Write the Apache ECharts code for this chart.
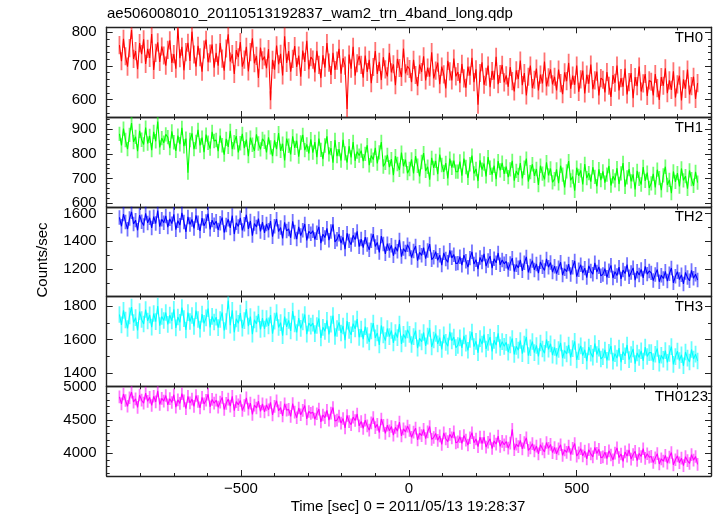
<!DOCTYPE html>
<html><head><meta charset="utf-8">
<script src="https://cdn.jsdelivr.net/npm/echarts@6/dist/echarts.min.js"></script>
<style>html,body{margin:0;padding:0;background:#fff}#c{width:717px;height:516px}</style>
</head><body><div id="c"></div>
<script>
const chartTitle = 'ae506008010_20110513192837_wam2_trn_4band_long.qdp';
const xTitle = 'Time [sec] 0 = 2011/05/13 19:28:37';
const yTitle = 'Counts/sec';
const panelNames = ['TH0', 'TH1', 'TH2', 'TH3', 'TH0123'];
const tStart = -862, binSize = 6;

const TH0 = [
762,714,781,729,698,753,807,721,744,690,768,735,779,706,751,724,795,688,739,770,712,758,731,701,
748,776,709,735,692,812,723,757,687,741,769,715,802,734,698,760,726,683,749,778,711,737,764,695,
739,701,768,722,686,752,794,713,735,676,747,726,771,698,719,757,684,741,782,708,730,664,755,717,
728,693,750,598,718,689,761,705,736,672,788,709,744,683,721,759,697,731,668,746,712,775,690,726,
719,681,745,703,664,732,695,768,710,673,739,688,716,751,677,723,701,572,734,692,757,671,708,729,
703,665,731,682,718,649,697,744,676,712,658,726,690,669,739,681,705,643,721,694,667,752,678,699,
691,652,718,673,640,704,682,729,657,695,668,741,663,686,710,646,698,675,633,715,684,657,722,669,
682,649,706,663,635,698,671,724,652,690,585,679,711,644,668,701,637,685,659,727,646,676,703,651,
672,638,697,655,624,687,661,716,643,679,612,668,701,634,659,692,627,674,648,713,639,666,690,645,
668,627,689,649,616,681,655,709,632,671,644,701,623,660,686,618,674,647,704,631,657,683,612,664,
659,621,682,641,608,673,650,701,627,664,638,692,615,652,679,604,667,640,698,624,648,676,611,657,
653,612,676,634,599,667,641,693,619,657,629,684,606,645,671,597,660,632,689,615,640,668,602,649];

const TH1 = [
881,834,902,856,819,877,925,848,869,811,893,857,838,906,842,873,815,889,851,931,826,864,845,879,
868,823,891,847,812,874,839,905,831,862,724,856,883,819,848,897,834,866,807,878,845,821,889,852,
856,811,874,835,797,861,828,893,819,847,872,806,843,881,823,858,791,866,837,812,879,842,818,861,
849,806,867,826,791,855,819,884,812,841,773,862,833,798,871,824,853,789,846,877,815,838,802,859,
805,848,787,862,816,779,834,871,798,823,764,856,791,819,773,857,802,765,831,786,848,772,809,793,
813,771,800,835,754,793,777,824,761,806,848,749,764,796,746,779,714,791,759,735,805,750,777,722,
739,778,721,791,752,709,767,803,731,748,696,784,743,772,718,797,755,727,763,701,781,744,773,728,
728,769,712,781,747,703,758,793,721,739,690,774,736,761,709,787,744,716,752,698,771,733,764,719,
749,706,737,772,692,731,715,763,701,744,781,688,726,758,711,739,674,752,720,697,766,713,741,685,
698,737,681,752,716,664,729,771,693,708,651,744,711,733,676,759,702,722,688,746,707,669,738,694,
729,684,716,751,672,709,693,742,678,721,763,667,705,738,689,717,656,731,699,676,747,691,724,662,
681,719,664,736,702,653,713,748,674,695,641,729,687,722,668,741,693,710,659,733,698,671,727,684];

const TH2 = [
1571,1508,1596,1539,1487,1563,1612,1524,1552,1479,1588,1541,1513,1601,1532,1569,1496,1577,1528,1621,1505,1558,1534,1582,
1502,1561,1527,1594,1483,1548,1516,1605,1539,1468,1575,1521,1557,1492,1586,1533,1474,1566,1511,1543,1598,1486,1552,1519,
1544,1482,1529,1571,1463,1517,1558,1496,1585,1452,1533,1507,1569,1478,1523,1591,1489,1546,1441,1528,1502,1563,1471,1537,
1461,1524,1480,1545,1433,1508,1559,1470,1499,1421,1536,1474,1489,1425,1544,1467,1416,1503,1441,1480,1524,1406,1472,1454,
1476,1413,1462,1504,1387,1451,1427,1493,1408,1470,1522,1396,1414,1451,1387,1429,1344,1458,1403,1376,1443,1412,1471,1361,
1416,1355,1430,1377,1339,1404,1451,1363,1392,1320,1437,1381,1310,1383,1334,1371,1296,1359,1328,1410,1290,1348,1323,1375,
1344,1283,1330,1366,1261,1321,1299,1355,1275,1333,1380,1268,1286,1325,1263,1300,1229,1317,1272,1249,1335,1281,1304,1240,
1243,1289,1228,1301,1257,1214,1279,1324,1236,1268,1199,1284,1251,1309,1222,1262,1293,1207,1274,1245,1316,1231,1266,1238,
1256,1197,1241,1279,1183,1232,1209,1267,1188,1245,1288,1176,1223,1261,1194,1237,1171,1252,1216,1190,1273,1214,1247,1179,
1221,1168,1209,1249,1157,1203,1182,1236,1161,1214,1258,1146,1195,1231,1172,1207,1139,1224,1186,1163,1245,1179,1216,1152,
1162,1203,1141,1189,1227,1136,1181,1154,1214,1129,1193,1168,1233,1145,1176,1209,1121,1185,1158,1198,1137,1220,1164,1187,
1173,1118,1162,1197,1109,1156,1132,1184,1114,1167,1208,1101,1148,1181,1125,1159,1093,1176,1139,1116,1191,1134,1163,1122];

const TH3 = [
1751,1689,1776,1718,1667,1743,1795,1703,1732,1656,1768,1721,1694,1781,1712,1749,1675,1757,1708,1802,1684,1739,1715,1763,
1692,1747,1713,1782,1671,1736,1704,1793,1726,1658,1762,1709,1745,1679,1774,1721,1663,1753,1698,1731,1786,1674,1740,1706,
1735,1672,1721,1763,1655,1709,1835,1687,1776,1644,1725,1698,1760,1669,1714,1783,1681,1738,1633,1719,1694,1754,1662,1729,
1664,1727,1683,1748,1636,1711,1762,1673,1702,1624,1739,1677,1716,1652,1771,1694,1643,1730,1668,1707,1751,1633,1699,1681,
1699,1636,1685,1727,1610,1674,1650,1716,1631,1693,1745,1619,1667,1704,1640,1682,1597,1711,1656,1629,1696,1665,1724,1614,
1664,1603,1678,1625,1587,1652,1699,1611,1640,1568,1685,1629,1594,1667,1618,1655,1580,1643,1612,1694,1574,1632,1607,1659,
1632,1571,1618,1654,1549,1609,1587,1643,1563,1621,1668,1556,1598,1637,1575,1612,1541,1629,1584,1561,1647,1593,1616,1552,
1565,1611,1550,1623,1579,1536,1601,1646,1558,1590,1521,1606,1573,1631,1544,1584,1615,1529,1596,1567,1638,1553,1588,1560,
1584,1525,1569,1607,1511,1560,1537,1595,1516,1573,1616,1504,1551,1589,1522,1565,1499,1580,1544,1518,1601,1542,1575,1507,
1553,1500,1541,1581,1489,1535,1514,1568,1493,1546,1590,1478,1527,1563,1504,1539,1471,1556,1518,1495,1577,1511,1548,1484,
1497,1538,1476,1524,1562,1471,1516,1489,1549,1464,1528,1503,1568,1480,1511,1544,1456,1520,1493,1533,1472,1555,1499,1522,
1523,1468,1512,1547,1459,1506,1482,1534,1464,1517,1558,1451,1498,1531,1475,1509,1443,1526,1489,1466,1541,1484,1513,1472];

const TH0123 = [
4846,4742,4889,4791,4705,4833,4918,4768,4817,4689,4874,4796,4751,4902,4779,4840,4717,4855,4772,4937,4731,4824,4783,4866,
4727,4819,4762,4878,4691,4801,4748,4893,4786,4669,4853,4755,4812,4703,4866,4777,4682,4838,4740,4795,4885,4697,4808,4751,
4796,4691,4768,4838,4657,4749,4813,4708,4854,4639,4774,4728,4792,4642,4717,4831,4661,4752,4582,4723,4679,4781,4628,4741,
4621,4726,4652,4762,4576,4703,4787,4637,4684,4559,4743,4646,4659,4553,4746,4618,4533,4679,4578,4644,4717,4516,4627,4599,
4617,4511,4593,4663,4472,4574,4533,4644,4498,4601,4686,4484,4497,4558,4452,4521,4381,4567,4475,4428,4543,4491,4589,4412,
4477,4372,4498,4411,4346,4456,4535,4384,4433,4311,4514,4419,4298,4421,4337,4402,4271,4389,4332,4467,4262,4365,4321,4408,
4341,4238,4316,4377,4201,4303,4264,4359,4221,4322,4401,4209,4236,4298,4193,4260,4132,4306,4217,4174,4284,4231,4321,4156,
4172,4249,4147,4266,4198,4124,4233,4308,4159,4214,4098,4241,4146,4243,4092,4165,4217,4071,4184,4138,4256,4103,4179,4127,
4177,4078,4152,4360,4053,4137,4099,4193,4066,4161,4233,4044,4082,4144,4035,4108,3991,4129,4067,4021,4161,4074,4133,4009,
4086,3993,4067,4128,3969,4051,4013,4106,3982,4074,4147,3958,4006,4069,3961,4032,3916,4054,3991,3946,4087,3998,4059,3934,
3946,4015,3921,4037,3974,3902,4003,4081,3936,3989,3878,4021,3958,4052,3913,3981,4029,3891,3997,3952,4068,3924,3993,3941,
3953,3862,3931,3994,3839,3917,3881,3968,3851,3941,4011,3827,3903,3962,3858,3926,3815,3949,3889,3846,3979,3897,3952,3833];

const rateErrors = [27, 29, 52, 50, 95];
const seriesData = [TH0, TH1, TH2, TH3, TH0123];
const colors = ['#ff0000', '#00ff00', '#0000ff', '#00ffff', '#ff00ff'];
const errColors = ['rgba(255,0,0,0.55)', 'rgba(0,255,0,0.55)', 'rgba(0,0,255,0.55)', 'rgba(0,255,255,0.6)', 'rgba(255,0,255,0.55)'];

const xRange = [-900, 900];
const xMajorTicks = [-500, 0, 500];
const xMinorTicks = [-900, -800, -700, -600, -400, -300, -200, -100, 100, 200, 300, 400, 600, 700, 800, 900];
const yRanges = [[548, 815], [586, 949], [1003, 1648], [1320, 1859], [3659, 5005]];
const yMajorTicks = [[600, 700, 800], [600, 700, 800, 900], [1200, 1400, 1600], [1400, 1600, 1800], [4000, 4500, 5000]];
const yMinorStep = [20, 20, 100, 100, 100];

const plotTop = 27.3, panelH = 89.74, plotLeft = 106.7, plotRight = 6;
const FONT = '"Liberation Sans", Arial, Helvetica, sans-serif';
const AX = '#222';

const grids = [], xAxes = [], yAxes = [], series = [], graphics = [];
const fmtX = v => v < 0 ? '\u2212' + Math.abs(v) : String(v);
const fmtY = v => String(v);

for (let k = 0; k < 5; k++) {
  grids.push({left: plotLeft, right: plotRight, top: plotTop + k * panelH, height: panelH, containLabel: false});
  const yMinor = [];
  const [ymin, ymax] = yRanges[k];
  for (let v = Math.ceil(ymin / yMinorStep[k]) * yMinorStep[k]; v <= ymax; v += yMinorStep[k]) {
    if (yMajorTicks[k].indexOf(v) < 0) yMinor.push(v);
  }
  ['bottom', 'top'].forEach(pos => {
    [true, false].forEach(major => {
      xAxes.push({
        type: 'value', gridIndex: k, position: pos, min: xRange[0], max: xRange[1],
        axisLine: {show: major, onZero: false, lineStyle: {color: AX, width: 1.4}},
        axisTick: {show: true, inside: true, length: major ? 6 : 3, customValues: major ? xMajorTicks : xMinorTicks, lineStyle: {color: AX, width: 1}},
        axisLabel: {show: major && pos === 'bottom' && k === 4, customValues: xMajorTicks, formatter: fmtX, margin: 5,
          color: '#000', fontSize: 15, fontFamily: FONT},
        splitLine: {show: false}
      });
    });
  });
  ['left', 'right'].forEach(pos => {
    [true, false].forEach(major => {
      yAxes.push({
        type: 'value', gridIndex: k, position: pos, min: ymin, max: ymax,
        axisLine: {show: major, onZero: false, lineStyle: {color: AX, width: 1.4}},
        axisTick: {show: true, inside: true, length: major ? 6 : 3, customValues: major ? yMajorTicks[k] : yMinor, lineStyle: {color: AX, width: 1}},
        axisLabel: {show: major && pos === 'left', customValues: yMajorTicks[k], formatter: fmtY, margin: 10,
          color: '#000', fontSize: 15, fontFamily: FONT},
        splitLine: {show: false}
      });
    });
  });
  const vals = seriesData[k];
  const lineData = vals.map((v, i) => [tStart + i * binSize, v]);
  const errData = vals.map((v, i) => [tStart + i * binSize, v - rateErrors[k], v + rateErrors[k]]);
  series.push({
    type: 'custom', xAxisIndex: 4 * k, yAxisIndex: 4 * k, clip: true, silent: true,
    itemStyle: {color: errColors[k]},
    encode: {x: 0, y: [1, 2]},
    renderItem: function (params, api) {
      const t = api.value(0);
      const p1 = api.coord([t, api.value(1)]), p2 = api.coord([t, api.value(2)]);
      return {type: 'line', shape: {x1: p1[0], y1: p1[1], x2: p2[0], y2: p2[1]},
        style: {stroke: errColors[k], lineWidth: 1.8}};
    },
    data: errData
  });
  series.push({
    type: 'line', xAxisIndex: 4 * k, yAxisIndex: 4 * k, data: lineData, showSymbol: false, symbol: 'none',
    clip: true, lineStyle: {color: colors[k], width: 1.1}, silent: true
  });
  graphics.push({
    type: 'text', right: k === 4 ? 9 : 14, top: plotTop + k * panelH + 3,
    style: {text: panelNames[k], fill: '#000', font: '15px ' + FONT}
  });
}

graphics.push({type: 'text', left: 107, top: 6, style: {text: chartTitle, fill: '#000', font: '15px ' + FONT}});
graphics.push({type: 'text', x: 408, y: 506.5, style: {text: xTitle, fill: '#000', font: '15px ' + FONT, align: 'center', verticalAlign: 'middle'}});
graphics.push({type: 'text', x: 43, y: 260, rotation: Math.PI / 2, style: {text: yTitle, fill: '#000', font: '15px ' + FONT, align: 'center', verticalAlign: 'middle'}});

const chart = echarts.init(document.getElementById('c'), null, {renderer: 'canvas'});
chart.setOption({
  animation: false,
  backgroundColor: '#fff',
  grid: grids, xAxis: xAxes, yAxis: yAxes, series: series, graphic: graphics
});
</script></body></html>
